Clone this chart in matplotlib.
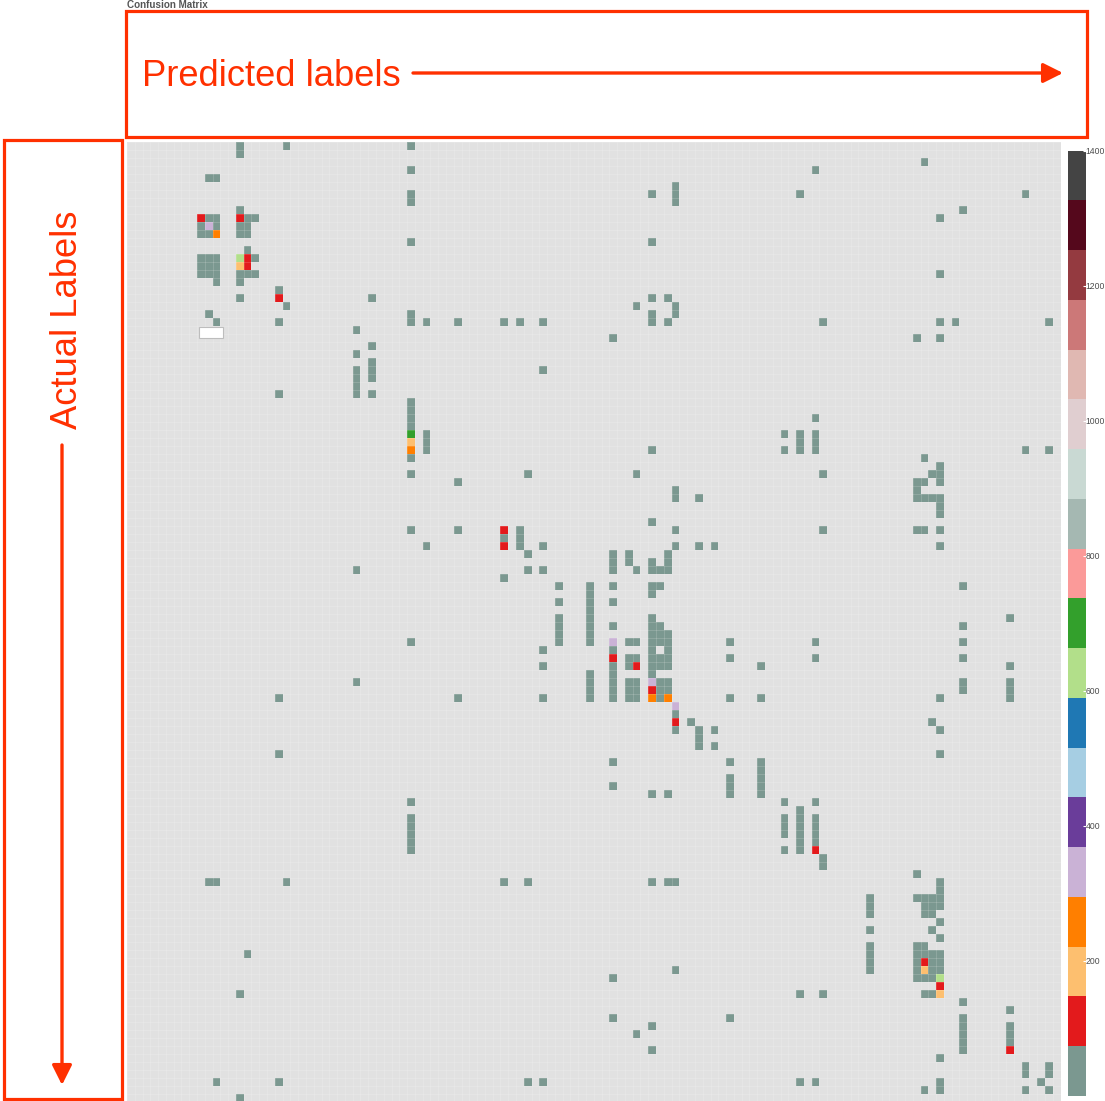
import numpy as np
import matplotlib
matplotlib.use("Agg")
import matplotlib.pyplot as plt
from matplotlib.colors import ListedColormap, BoundaryNorm
from matplotlib.patches import FancyArrowPatch, Rectangle

W, H = 1105, 1101
N = 120

# columns with a small count (first colour band), per actual label row
low_cells = {
    0: [14, 20, 36], 1: [14], 2: [102], 3: [36, 88], 4: [10, 11], 5: [70],
    6: [36, 67, 70, 86, 115], 7: [36, 70], 8: [14, 107],
    9: [10, 11, 15, 16, 104], 10: [9, 11, 14, 15], 11: [9, 10, 14, 15],
    12: [36, 67], 13: [15], 14: [9, 10, 11, 16], 15: [9, 10, 11],
    16: [9, 10, 11, 14, 15, 16, 104], 17: [11, 14], 18: [19],
    19: [14, 31, 67, 69], 20: [20, 65, 70], 21: [10, 36, 67, 70],
    22: [11, 19, 36, 38, 42, 48, 50, 53, 67, 69, 89, 104, 106, 118],
    23: [29], 24: [62, 101, 104], 25: [31], 26: [29], 27: [31],
    28: [29, 31, 53], 29: [29, 31], 30: [29], 31: [19, 29, 31], 32: [36],
    33: [36], 34: [36, 88], 35: [36], 36: [38, 84, 86, 88], 37: [38, 86, 88],
    38: [38, 67, 84, 86, 88, 115, 118], 39: [36, 102], 40: [104],
    41: [36, 51, 65, 89, 103, 104], 42: [42, 101, 102, 104], 43: [70, 101],
    44: [70, 73, 101, 102, 103, 104], 45: [104], 46: [104], 47: [67],
    48: [36, 42, 50, 70, 89, 101, 102, 104], 49: [48, 50],
    50: [38, 50, 53, 70, 73, 75, 104], 51: [51, 62, 64, 69],
    52: [62, 64, 67, 69], 53: [29, 51, 53, 62, 65, 67, 68, 69], 54: [48],
    55: [55, 59, 62, 67, 68, 107], 56: [59, 67], 57: [55, 59, 62], 58: [59],
    59: [55, 59, 67, 113], 60: [55, 59, 62, 67, 68, 107],
    61: [55, 59, 67, 68, 69], 62: [36, 55, 59, 64, 65, 67, 68, 69, 77, 88, 107],
    63: [53, 62, 67, 69], 64: [64, 65, 67, 68, 69, 77, 88, 107],
    65: [53, 62, 64, 67, 68, 69, 81, 113], 66: [59, 62, 67],
    67: [29, 59, 62, 64, 65, 68, 69, 107, 113],
    68: [59, 62, 64, 65, 68, 69, 107, 113],
    69: [19, 42, 53, 59, 62, 64, 65, 68, 77, 81, 104, 113], 71: [70],
    72: [72, 103], 73: [70, 73, 75, 104], 74: [73], 75: [73, 75], 76: [19, 104],
    77: [62, 77, 81], 78: [81], 79: [77, 81], 80: [62, 77, 81],
    81: [67, 69, 77, 81], 82: [36, 84, 88], 83: [86], 84: [36, 84, 86, 88],
    85: [36, 84, 86, 88], 86: [36, 84, 86, 88], 87: [36, 86, 88],
    88: [36, 84, 86], 89: [89], 90: [89], 91: [101],
    92: [10, 11, 20, 48, 51, 67, 69, 70, 104], 93: [104],
    94: [95, 101, 102, 103, 104], 95: [95, 102, 103, 104], 96: [95, 102, 103],
    97: [104], 98: [95, 103], 99: [104], 100: [95, 101, 102],
    101: [15, 95, 101, 102, 103, 104], 102: [95, 101, 103, 104],
    103: [70, 95, 101, 103, 104], 104: [62, 101, 102, 103],
    106: [14, 86, 89, 102, 103], 107: [107], 108: [113], 109: [62, 77, 107],
    110: [67, 107, 113], 111: [65, 107, 113], 112: [107, 113], 113: [67, 107],
    114: [104], 115: [115, 118], 116: [115, 118],
    117: [11, 19, 51, 53, 86, 88, 104, 117], 118: [102, 104, 115, 118],
    119: [14],
}
low_value = 35

# the few cells with higher counts: (row, col, value)
high_cells = [
    (9, 9, 110), (9, 14, 110), (14, 15, 110), (15, 15, 110), (19, 19, 110),
    (48, 48, 110), (50, 48, 110), (64, 62, 110), (65, 65, 110), (68, 67, 110),
    (72, 70, 110), (88, 88, 110), (102, 102, 110), (105, 104, 110),
    (113, 113, 110),
    (15, 14, 185), (37, 36, 185), (103, 102, 185), (106, 104, 185),
    (11, 11, 260), (38, 36, 260), (69, 67, 260), (69, 69, 260),
    (10, 10, 330), (62, 62, 330), (67, 67, 330), (70, 70, 330),
    (14, 14, 625), (104, 104, 625),
    (36, 36, 700),
]

band_colors = [
    "#7b9890", "#e31a1c", "#fdbf6f", "#ff7f00", "#cab2d6", "#6a3d9a",
    "#a6cee3", "#1f78b4", "#b2df8a", "#33a02c", "#fb9a99", "#a5b8b2",
    "#c9d9d3", "#e0ced0", "#e0b8b2", "#cc7878", "#943a40", "#55081c",
    "#444444",
]
cbar_ticks = [200, 400, 600, 800, 1000, 1200, 1400]

red = "#ff3000"

matrix = np.full((N, N), np.nan)
for r, cols in low_cells.items():
    matrix[r, cols] = low_value
for r, c, v in high_cells:
    matrix[r, c] = v

plt.rcParams["font.family"] = ["Liberation Sans", "DejaVu Sans"]
fig = plt.figure(figsize=(W / 100, H / 100), dpi=100)


def px_axes(x0, y0, x1, y1):
    # pixel box measured from the top left of the picture
    return fig.add_axes([x0 / W, 1 - y1 / H, (x1 - x0) / W, (y1 - y0) / H])


cmap = ListedColormap(band_colors)
cmap.set_bad("#e1e1e1")
norm = BoundaryNorm(np.linspace(0, 1400, len(band_colors) + 1), cmap.N)

ax = px_axes(127, 142.3, 1060.6, 1102.3)
mesh = ax.pcolormesh(np.ma.masked_invalid(matrix), cmap=cmap, norm=norm)
# the tile grid is only just visible in the original
ax.vlines(np.arange(N + 1), 0, N, color="white", alpha=0.22, lw=0.5)
ax.hlines(np.arange(N + 1), 0, N, color="white", alpha=0.22, lw=0.5)
ax.set_xlim(0, N)
ax.set_ylim(N, 0)
ax.set_xticks([])
ax.set_yticks([])
for s in ax.spines.values():
    s.set_visible(False)

cax = px_axes(1067.7, 150.6, 1086.3, 1096)
cbar = fig.colorbar(mesh, cax=cax, ticks=cbar_ticks, drawedges=False)
cbar.outline.set_visible(False)
cax.minorticks_off()
cax.tick_params(direction="in", length=2.5, width=0.8, color="white", pad=-0.5,
                labelsize=6.2, labelcolor="#4d4d4d")

# annotation layer, in pixels
over = fig.add_axes([0, 0, 1, 1], facecolor="none")
over.set_xlim(0, W)
over.set_ylim(H, 0)
over.axis("off")

over.add_patch(Rectangle((126, 11), 961, 125.5, fill=False, ec=red, lw=2.3))
over.add_patch(Rectangle((3.5, 140), 118.5, 959, fill=False, ec=red, lw=2.3))
over.add_patch(Rectangle((198.7, 326.7), 24, 11, fc="white", ec="#bdbdbd", lw=0.8))

over.text(127, 4.5, "Confusion Matrix", fontsize=7.1, fontweight="bold",
          color="#555555", ha="left", va="center")
over.text(141.5, 76.5, "Predicted labels", fontsize=26.2, color=red,
          ha="left", va="center")
over.text(67.5, 320, "Actual Labels", fontsize=26.2, color=red, rotation=90,
          ha="center", va="center")

arrow_style = "-|>,head_length=1.2,head_width=0.6"
over.add_patch(FancyArrowPatch((413, 73), (1063, 73), arrowstyle=arrow_style,
                               mutation_scale=10, color=red, lw=2.4,
                               shrinkA=0, shrinkB=0))
over.add_patch(FancyArrowPatch((62, 445), (62, 1085), arrowstyle=arrow_style,
                               mutation_scale=10, color=red, lw=2.4,
                               shrinkA=0, shrinkB=0))

fig.savefig("out.png", dpi=100)
